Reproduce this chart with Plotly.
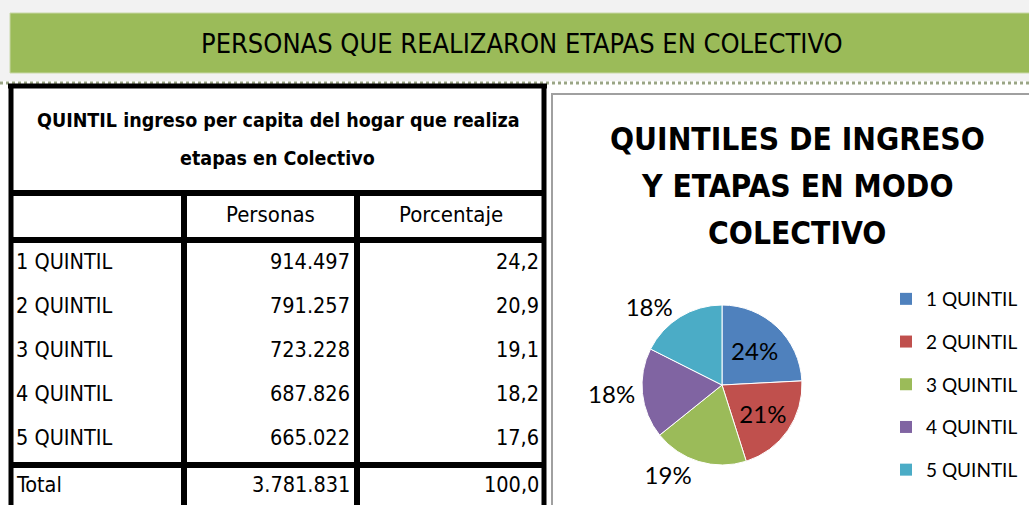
import plotly.graph_objects as go

W, H = 1029, 505

# ---- data ----
quintiles = ["1 QUINTIL", "2 QUINTIL", "3 QUINTIL", "4 QUINTIL", "5 QUINTIL"]
personas = [914497, 791257, 723228, 687826, 665022]
porcentaje = [24.2, 20.9, 19.1, 18.2, 17.6]
total_label = "Total"
total_personas = 3781831
total_porcentaje = 100.0
colors = ["#4F81BD", "#C0504D", "#9BBB59", "#8064A2", "#4BACC6"]

header_title = "PERSONAS QUE REALIZARON ETAPAS EN COLECTIVO"
table_title_lines = ["QUINTIL ingreso per capita del hogar que realiza", "etapas en Colectivo"]
col_headers = ["Personas", "Porcentaje"]
chart_title_lines = ["QUINTILES DE INGRESO", "Y ETAPAS EN MODO", "COLECTIVO"]


def fmt_int(v):
    return f"{v:,}".replace(",", ".")


def fmt_pct(v):
    return f"{v:.1f}".replace(".", ",")


NARROW = "DejaVu Sans Condensed, Liberation Sans Narrow, sans-serif"
ROUND = "Lato, Open Sans, sans-serif"

# ---- layout constants (pixels) ----
tbl_left, tbl_right, tbl_top = 11, 544, 86
h_lines = [193, 240, 465]
v_cols = [184, 357]
row_y0, row_step, total_y = 261, 44, 484
line_w = 6

fig = go.Figure()

fig.add_trace(go.Pie(
    labels=quintiles, values=personas, sort=False, direction="clockwise", rotation=0,
    marker=dict(colors=colors, line=dict(color="white", width=1)),
    texttemplate="%{percent:.0%}",
    textposition=["inside", "inside", "outside", "outside", "outside"],
    insidetextorientation="horizontal",
    textfont=dict(family=ROUND, size=24, color="black"),
    domain=dict(x=[642 / W, 802 / W], y=[1 - 465 / H, 1 - 305 / H]),
    showlegend=False, hoverinfo="label+percent",
))

for q, c in zip(quintiles, colors):
    fig.add_trace(go.Scatter(
        x=[None], y=[None], mode="markers", name=q, legendgroup=q,
        marker=dict(symbol="square", size=12, color=c),
    ))

shapes = []
# top background band and dotted row line
shapes.append(dict(type="rect", x0=0, x1=W, y0=0, y1=81, fillcolor="#F2F2F2", line=dict(width=0), layer="below"))
shapes.append(dict(type="line", x0=0, x1=W, y0=83, y1=83, line=dict(color="#9AA585", width=3, dash="dot")))
# green header bar
shapes.append(dict(type="rect", x0=10, x1=W + 5, y0=13, y1=73, fillcolor="#9BBB59",
                   line=dict(color="#C9D8A8", width=1)))
# chart panel border
shapes.append(dict(type="rect", x0=552, x1=W + 10, y0=94, y1=H + 10, fillcolor="white",
                   line=dict(color="#A0A0A0", width=2), layer="below"))
# table borders
blk = dict(color="black", width=line_w)
shapes.append(dict(type="line", x0=tbl_left - 3, x1=tbl_right + 3, y0=tbl_top, y1=tbl_top, line=dict(color="black", width=5)))
shapes.append(dict(type="line", x0=tbl_left, x1=tbl_left, y0=tbl_top, y1=H + 10, line=dict(color="black", width=5)))
shapes.append(dict(type="line", x0=tbl_right, x1=tbl_right, y0=tbl_top, y1=H + 10, line=dict(color="black", width=5)))
for hy in h_lines:
    shapes.append(dict(type="line", x0=tbl_left, x1=tbl_right, y0=hy, y1=hy, line=blk))
for vx in v_cols:
    shapes.append(dict(type="line", x0=vx, x1=vx, y0=h_lines[0], y1=H + 10, line=blk))

ann = []
ann.append(dict(x=522, y=43, text=header_title, showarrow=False, xanchor="center", yanchor="middle",
                font=dict(family=NARROW, size=27, color="black")))
for i, t in enumerate(table_title_lines):
    ann.append(dict(x=(tbl_left + tbl_right) / 2, y=120 + 38 * i, text=f"<b>{t}</b>", showarrow=False,
                    xanchor="center", yanchor="middle", font=dict(family=NARROW, size=19.5, color="black")))
ann.append(dict(x=(v_cols[0] + v_cols[1]) / 2, y=214, text=col_headers[0], showarrow=False,
                xanchor="center", yanchor="middle", font=dict(family=NARROW, size=22, color="black")))
ann.append(dict(x=(v_cols[1] + tbl_right) / 2, y=214, text=col_headers[1], showarrow=False,
                xanchor="center", yanchor="middle", font=dict(family=NARROW, size=22, color="black")))

labels_all = quintiles + [total_label]
pers_all = personas + [total_personas]
pct_all = porcentaje + [total_porcentaje]
for i, (lab, p, pc) in enumerate(zip(labels_all, pers_all, pct_all)):
    y = row_y0 + row_step * i if i < len(quintiles) else total_y
    f = dict(family=NARROW, size=21.5, color="black")
    ann.append(dict(x=tbl_left + 3, y=y, text=lab, showarrow=False, xanchor="left", yanchor="middle", font=f))
    ann.append(dict(x=v_cols[1] - 5, y=y, text=fmt_int(p), showarrow=False, xanchor="right", yanchor="middle", font=f))
    ann.append(dict(x=tbl_right - 3, y=y, text=fmt_pct(pc), showarrow=False, xanchor="right", yanchor="middle", font=f))

for i, t in enumerate(chart_title_lines):
    ann.append(dict(x=797, y=139 + 47 * i, text=f"<b>{t}</b>", showarrow=False, xanchor="center",
                    yanchor="middle", font=dict(family=NARROW, size=31.5, color="black")))

fig.update_layout(
    width=W, height=H, margin=dict(l=0, r=0, t=0, b=0, autoexpand=False),
    paper_bgcolor="white", plot_bgcolor="rgba(0,0,0,0)",
    xaxis=dict(range=[0, W], visible=False, fixedrange=True),
    yaxis=dict(range=[H, 0], visible=False, fixedrange=True),
    shapes=shapes, annotations=ann,
    showlegend=True,
    legend=dict(x=886 / W, y=1 - 280 / H, xanchor="left", yanchor="top",
                font=dict(family=ROUND, size=19, color="black"), tracegroupgap=15,
                bgcolor="rgba(0,0,0,0)", itemwidth=30),
)

fig.write_html(
    "out.html",
    config={"displayModeBar": False},
    post_script="document.body.style.margin='0';document.body.style.overflow='hidden';",
)
